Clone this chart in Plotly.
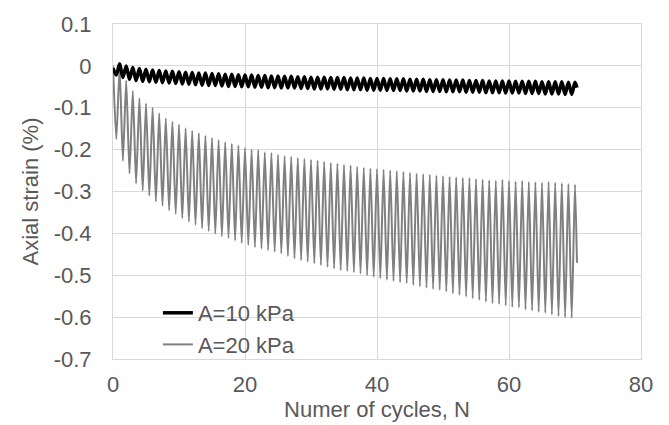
import plotly.graph_objects as go

# ---- data ----
series_names = ["A=10 kPa", "A=20 kPa"]

# cycle numbers at which peaks occur; troughs occur half a cycle earlier
cycles = list(range(1, 71))

# A=10 kPa : upper (peak) and lower (trough) strain per cycle, %
a10_start = -0.005
a10_peaks = [0.005, 0.0, -0.004, -0.006, -0.008, -0.010, -0.011, -0.012, -0.013, -0.014,
             -0.015, -0.016, -0.017, -0.017, -0.018, -0.019, -0.020, -0.020, -0.021, -0.022,
             -0.022, -0.023, -0.023, -0.024, -0.024, -0.025, -0.025, -0.026, -0.026, -0.027,
             -0.027, -0.027, -0.028, -0.028, -0.028, -0.029, -0.029, -0.029, -0.030, -0.030,
             -0.030, -0.031, -0.031, -0.031, -0.032, -0.032, -0.032, -0.033, -0.033, -0.033,
             -0.034, -0.034, -0.034, -0.035, -0.035, -0.035, -0.036, -0.036, -0.036, -0.036,
             -0.037, -0.037, -0.037, -0.037, -0.038, -0.038, -0.038, -0.038, -0.039, -0.039]
a10_troughs = [-0.022, -0.028, -0.032, -0.035, -0.037, -0.038, -0.039, -0.040, -0.041, -0.042,
               -0.043, -0.044, -0.045, -0.046, -0.047, -0.047, -0.048, -0.049, -0.049, -0.050,
               -0.050, -0.051, -0.051, -0.052, -0.052, -0.053, -0.053, -0.053, -0.054, -0.054,
               -0.055, -0.055, -0.055, -0.056, -0.056, -0.057, -0.057, -0.057, -0.058, -0.058,
               -0.058, -0.059, -0.059, -0.059, -0.060, -0.060, -0.060, -0.061, -0.061, -0.061,
               -0.062, -0.062, -0.062, -0.063, -0.063, -0.063, -0.064, -0.064, -0.064, -0.065,
               -0.065, -0.065, -0.066, -0.066, -0.066, -0.067, -0.067, -0.067, -0.068, -0.068]
a10_end = (70.3, -0.052)

# A=20 kPa
a20_start = 0.0
a20_peaks = [-0.005, -0.035, -0.060, -0.077, -0.090, -0.100, -0.113, -0.125, -0.133, -0.140,
             -0.149, -0.155, -0.160, -0.167, -0.172, -0.177, -0.182, -0.186, -0.190, -0.196,
             -0.200, -0.201, -0.206, -0.208, -0.212, -0.215, -0.217, -0.220, -0.222, -0.224,
             -0.226, -0.229, -0.232, -0.233, -0.236, -0.238, -0.241, -0.243, -0.245, -0.246,
             -0.248, -0.250, -0.251, -0.253, -0.255, -0.257, -0.258, -0.260, -0.262, -0.263,
             -0.265, -0.266, -0.267, -0.268, -0.270, -0.271, -0.273, -0.274, -0.272, -0.275,
             -0.276, -0.275, -0.277, -0.278, -0.279, -0.277, -0.279, -0.280, -0.282, -0.283]
a20_troughs = [-0.175, -0.227, -0.257, -0.281, -0.298, -0.310, -0.324, -0.334, -0.345, -0.354,
               -0.364, -0.372, -0.380, -0.388, -0.395, -0.401, -0.407, -0.411, -0.417, -0.423,
               -0.428, -0.433, -0.437, -0.440, -0.444, -0.448, -0.454, -0.460, -0.464, -0.468,
               -0.472, -0.476, -0.480, -0.484, -0.488, -0.490, -0.493, -0.496, -0.500, -0.504,
               -0.507, -0.511, -0.514, -0.517, -0.519, -0.523, -0.527, -0.530, -0.533, -0.535,
               -0.539, -0.543, -0.547, -0.551, -0.555, -0.559, -0.563, -0.567, -0.569, -0.572,
               -0.576, -0.577, -0.582, -0.584, -0.588, -0.590, -0.594, -0.598, -0.600, -0.602]
a20_end = (70.3, -0.470)

x_ticks = [0, 20, 40, 60, 80]
y_ticks = [0.1, 0.0, -0.1, -0.2, -0.3, -0.4, -0.5, -0.6, -0.7]
y_tick_text = ["0.1", "0", "-0.1", "-0.2", "-0.3", "-0.4", "-0.5", "-0.6", "-0.7"]


def build(start, troughs, peaks, end):
    xs, ys = [0.0], [start]
    for n, lo, hi in zip(cycles, troughs, peaks):
        xs += [n - 0.5, n]
        ys += [lo, hi]
    xs.append(end[0])
    ys.append(end[1])
    return xs, ys


x10, y10 = build(a10_start, a10_troughs, a10_peaks, a10_end)
x20, y20 = build(a20_start, a20_troughs, a20_peaks, a20_end)

FONT = "Liberation Sans, Arial, sans-serif"
TXT = "#595959"
GRID = "#d9d9d9"
FS = 22

fig = go.Figure()
fig.add_trace(go.Scatter(x=x20, y=y20, mode="lines", name=series_names[1],
                         line=dict(color="#808080", width=2, shape="spline", smoothing=0.6),
                         legendrank=2, legendgroup="b"))
fig.add_trace(go.Scatter(x=x10, y=y10, mode="lines", name=series_names[0],
                         line=dict(color="#000000", width=3.5, shape="spline", smoothing=0.8),
                         legendrank=1, legendgroup="a"))

fig.update_layout(
    width=669, height=425,
    margin=dict(l=113, r=28, t=20, b=65),
    paper_bgcolor="white", plot_bgcolor="white",
    font=dict(family=FONT, size=FS, color=TXT),
    showlegend=True,
    legend=dict(x=0.085, y=0.2, xanchor="left", yanchor="top",
                bgcolor="rgba(0,0,0,0)", font=dict(size=FS, color=TXT),
                tracegroupgap=0, traceorder="grouped"),
)
fig.update_xaxes(range=[0, 80], tickvals=x_ticks, ticktext=[str(v) for v in x_ticks],
                 showgrid=True, gridcolor=GRID, gridwidth=1,
                 showline=True, linecolor=GRID, linewidth=1, mirror=True,
                 zeroline=False, ticks="", ticklabelstandoff=6,
                 title=dict(text="Numer of cycles, N", font=dict(size=FS, color=TXT), standoff=0))
fig.update_yaxes(range=[-0.7, 0.1], tickvals=y_ticks, ticktext=y_tick_text,
                 showgrid=True, gridcolor=GRID, gridwidth=1,
                 showline=True, linecolor=GRID, linewidth=1, mirror=True,
                 zeroline=False, ticks="", ticklabelstandoff=16,
                 title=dict(text="Axial strain (%)", font=dict(size=FS, color=TXT), standoff=8))

fig.write_html("out.html")
